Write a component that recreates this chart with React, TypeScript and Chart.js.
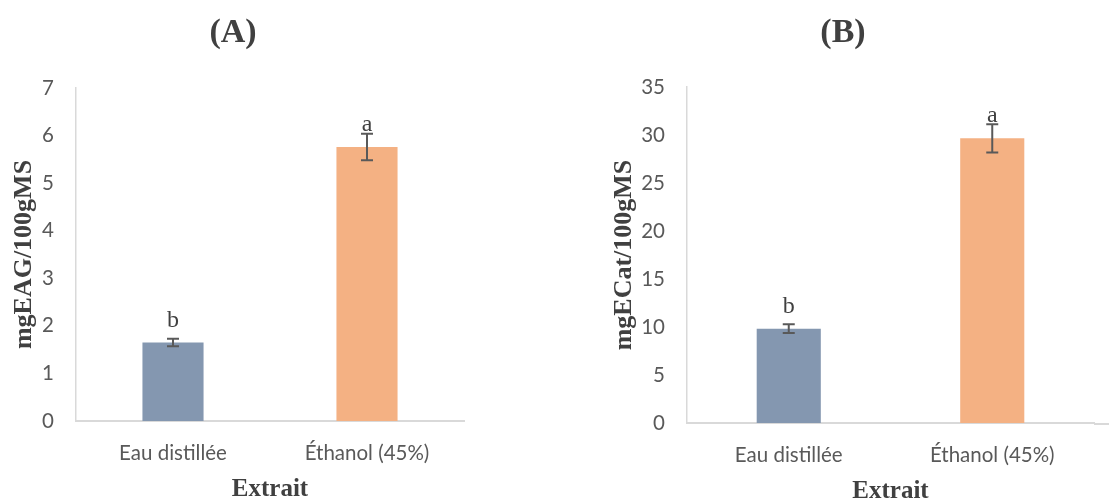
import React, { useEffect, useRef } from "react";
import { Chart, registerables } from "chart.js";

Chart.register(...registerables);

// Shared categories and bar colours
const categories = ["Eau distillée", "Éthanol (45%)"];
const barColors = ["#8497B0", "#F4B183"];

// Panel A: total polyphenols (mg EAG / 100 g MS)
const phenolMeans = [1.65, 5.76];
const phenolErrors = [0.08, 0.28];
const phenolGroups = ["b", "a"];
const phenolTicks = [0, 1, 2, 3, 4, 5, 6, 7];

// Panel B: flavonoids (mg ECat / 100 g MS)
const flavMeans = [9.83, 29.66];
const flavErrors = [0.45, 1.47];
const flavGroups = ["b", "a"];
const flavTicks = [0, 5, 10, 15, 20, 25, 30, 35];

const CANVAS_H = 501;
const TEXT_DARK = "#404040";
const TEXT_GREY = "#595959";
const AXIS_GREY = "#D9D9D9";
const SERIF = "'Liberation Serif', 'Times New Roman', serif";
const SANS = "Lato, 'Open Sans', sans-serif";
const TICK_SIZE = 20.5;

// Error bars, significance letters, panel heading and axis overhang
const annotatePlugin = {
  id: "annotate",
  afterDraw(chart: any, _args: any, opts: any) {
    const { ctx, chartArea } = chart;
    const yScale = chart.scales.y;
    const meta = chart.getDatasetMeta(0);
    const values = chart.data.datasets[0].data as number[];

    ctx.save();
    // baseline continuation past the plot area
    if (opts.baselineExtend) {
      ctx.strokeStyle = AXIS_GREY;
      ctx.lineWidth = 2;
      ctx.beginPath();
      ctx.moveTo(chartArea.right, chartArea.bottom + 1);
      ctx.lineTo(chartArea.right + opts.baselineExtend, chartArea.bottom + 1);
      ctx.stroke();
    }

    meta.data.forEach((bar: any, i: number) => {
      const v = values[i];
      const e = opts.errors[i];
      const yHi = yScale.getPixelForValue(v + e);
      const yLo = yScale.getPixelForValue(v - e);
      const cap = 6;
      ctx.strokeStyle = TEXT_GREY;
      ctx.lineWidth = 2;
      ctx.beginPath();
      ctx.moveTo(bar.x, yHi);
      ctx.lineTo(bar.x, yLo);
      ctx.moveTo(bar.x - cap, yHi);
      ctx.lineTo(bar.x + cap, yHi);
      ctx.moveTo(bar.x - cap, yLo);
      ctx.lineTo(bar.x + cap, yLo);
      ctx.stroke();

      ctx.fillStyle = TEXT_DARK;
      ctx.font = `24px ${SERIF}`;
      ctx.textAlign = "center";
      ctx.textBaseline = "alphabetic";
      ctx.fillText(opts.groups[i], bar.x, yScale.getPixelForValue(v) - 16);
    });

    ctx.fillStyle = TEXT_DARK;
    ctx.font = `bold 34px ${SERIF}`;
    ctx.textAlign = "center";
    ctx.textBaseline = "middle";
    ctx.fillText(opts.heading, opts.headingX, 33);
    ctx.restore();
  },
};

type PanelSpec = {
  width: number;
  areaLeft: number;
  areaRight: number;
  areaTop: number;
  areaBottom: number;
  means: number[];
  errors: number[];
  groups: string[];
  ticks: number[];
  yTitle: string;
  yTitlePad: number;
  xTitlePad: number;
  heading: string;
  headingX: number;
  baselineExtend: number;
};

function buildConfig(p: PanelSpec): any {
  const xBand = CANVAS_H - p.areaBottom;
  return {
    type: "bar",
    data: {
      labels: categories,
      datasets: [
        {
          data: p.means,
          backgroundColor: barColors,
          borderWidth: 0,
          barPercentage: 0.315,
          categoryPercentage: 1,
        },
      ],
    },
    options: {
      responsive: false,
      animation: false,
      devicePixelRatio: 1,
      events: [],
      layout: {
        padding: { left: 0, top: p.areaTop, right: p.width - p.areaRight, bottom: 0 },
      },
      plugins: {
        legend: { display: false },
        tooltip: { enabled: false },
        title: { display: false },
        annotate: {
          errors: p.errors,
          groups: p.groups,
          heading: p.heading,
          headingX: p.headingX,
          baselineExtend: p.baselineExtend,
        },
      },
      scales: {
        x: {
          grid: { display: false, drawTicks: false },
          border: { display: true, color: AXIS_GREY, width: 2 },
          ticks: { color: TEXT_GREY, font: { family: SANS, size: TICK_SIZE }, padding: 20 },
          title: {
            display: true,
            text: "Extrait",
            color: TEXT_DARK,
            font: { family: SERIF, size: 25, weight: "bold" },
            padding: { top: 0, bottom: p.xTitlePad },
          },
          afterFit: (s: any) => {
            s.height = xBand;
          },
        },
        y: {
          min: p.ticks[0],
          max: p.ticks[p.ticks.length - 1],
          afterBuildTicks: (s: any) => {
            s.ticks = p.ticks.map((v) => ({ value: v }));
          },
          grid: { display: false, drawTicks: false },
          border: { display: true, color: AXIS_GREY, width: 1.5 },
          ticks: { color: TEXT_GREY, font: { family: SANS, size: TICK_SIZE }, padding: 22 },
          title: {
            display: true,
            text: p.yTitle,
            color: TEXT_DARK,
            font: { family: SERIF, size: 26, weight: "bold" },
            padding: { top: p.yTitlePad, bottom: 0 },
          },
          afterFit: (s: any) => {
            s.width = p.areaLeft;
          },
        },
      },
    },
    plugins: [annotatePlugin],
  };
}

function Panel({ spec, left }: { spec: PanelSpec; left: number }) {
  const ref = useRef<HTMLCanvasElement | null>(null);
  useEffect(() => {
    if (!ref.current) return;
    const chart = new Chart(ref.current, buildConfig(spec));
    return () => chart.destroy();
  }, [spec]);
  return (
    <canvas
      ref={ref}
      width={spec.width}
      height={CANVAS_H}
      style={{ position: "absolute", left, top: 0, width: spec.width, height: CANVAS_H }}
    />
  );
}

const panelA: PanelSpec = {
  width: 555,
  areaLeft: 76,
  areaRight: 464,
  areaTop: 88,
  areaBottom: 421,
  means: phenolMeans,
  errors: phenolErrors,
  groups: phenolGroups,
  ticks: phenolTicks,
  yTitle: "mgEAG/100gMS",
  yTitlePad: 9,
  xTitlePad: -4,
  heading: "(A)",
  headingX: 233,
  baselineExtend: 0,
};

const panelB: PanelSpec = {
  width: 554,
  areaLeft: 132,
  areaRight: 539,
  areaTop: 87,
  areaBottom: 423,
  means: flavMeans,
  errors: flavErrors,
  groups: flavGroups,
  ticks: flavTicks,
  yTitle: "mgECat/100gMS",
  yTitlePad: 54,
  xTitlePad: -6,
  heading: "(B)",
  headingX: 288,
  baselineExtend: 15,
};

export default function App() {
  return (
    <div
      style={{
        position: "fixed",
        left: 0,
        top: 0,
        width: 1109,
        height: CANVAS_H,
        background: "#ffffff",
        overflow: "hidden",
      }}
    >
      <Panel spec={panelA} left={0} />
      <Panel spec={panelB} left={555} />
    </div>
  );
}
